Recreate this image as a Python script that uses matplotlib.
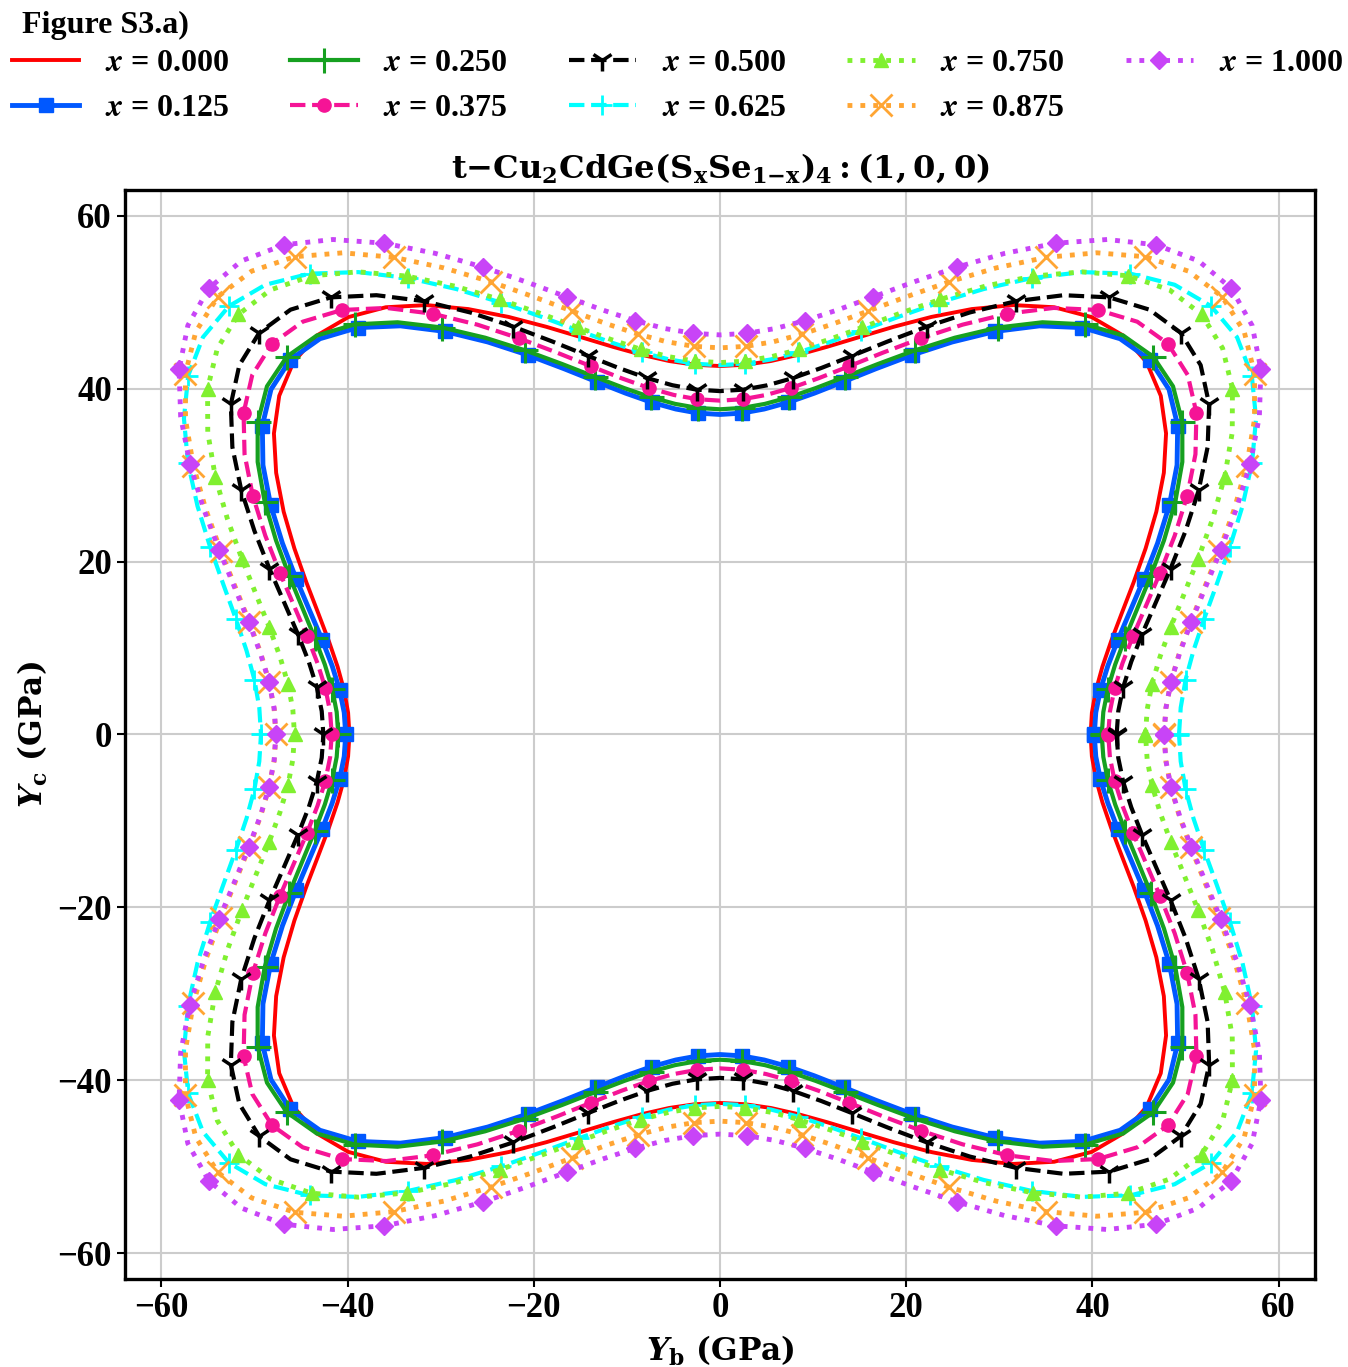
import numpy as np
import matplotlib
matplotlib.use('Agg')
import matplotlib.pyplot as plt
from matplotlib.font_manager import FontProperties

# Polar angle (degrees, measured from the Y_b axis) for one quadrant; the curves
# share the crystal's mirror symmetry about both axes.
angles_deg = [0.0, 3.6, 7.2, 10.8, 14.4, 18.0, 21.6, 25.2, 28.8, 32.4, 36.0, 39.6, 43.2,
              46.8, 50.4, 54.0, 57.6, 61.2, 64.8, 68.4, 72.0, 75.6, 79.2, 82.8, 86.4, 90.0]

# Young's modulus (GPa) at those angles, one list per composition
labels = ['0.000', '0.125', '0.250', '0.375', '0.500', '0.625', '0.750', '0.875', '1.000']

E_x0000 = [39.80, 40.02, 40.69, 41.81, 43.37, 45.37, 47.78, 50.52, 53.48, 56.46, 59.22, 61.44, 62.86,
           63.27, 62.63, 61.06, 58.80, 56.13, 53.36, 50.70, 48.30, 46.28, 44.68, 43.52, 42.83, 42.60]
E_x0125 = [40.20, 40.44, 41.18, 42.41, 44.13, 46.34, 48.97, 51.94, 55.08, 58.14, 60.76, 62.59, 63.31,
           62.77, 61.05, 58.40, 55.20, 51.79, 48.49, 45.48, 42.88, 40.74, 39.09, 37.93, 37.23, 37.00]
E_x0250 = [41.00, 41.25, 41.98, 43.21, 44.94, 47.13, 49.75, 52.70, 55.80, 58.81, 61.38, 63.15, 63.82,
           63.27, 61.54, 58.91, 55.73, 52.35, 49.07, 46.07, 43.48, 41.35, 39.70, 38.53, 37.83, 37.60]
E_x0375 = [41.70, 41.96, 42.72, 44.01, 45.80, 48.10, 50.85, 53.97, 57.26, 60.48, 63.25, 65.20, 66.00,
           65.47, 63.70, 60.96, 57.62, 54.07, 50.61, 47.47, 44.75, 42.52, 40.79, 39.57, 38.84, 38.60]
E_x0500 = [42.60, 42.86, 43.65, 44.97, 46.82, 49.19, 52.04, 55.26, 58.68, 62.03, 64.94, 67.00, 67.87,
           67.38, 65.59, 62.78, 59.34, 55.68, 52.11, 48.86, 46.05, 43.75, 41.96, 40.70, 39.95, 39.70]
E_x0625 = [49.30, 49.58, 50.40, 51.77, 53.68, 56.08, 58.90, 62.02, 65.21, 68.19, 70.60, 72.07, 72.35,
           71.33, 69.15, 66.08, 62.50, 58.77, 55.18, 51.91, 49.09, 46.78, 44.98, 43.71, 42.95, 42.70]
E_x0750 = [45.70, 45.97, 46.77, 48.12, 49.99, 52.39, 55.24, 58.46, 61.86, 65.16, 68.03, 70.06, 70.95,
           70.52, 68.82, 66.12, 62.77, 59.16, 55.61, 52.35, 49.50, 47.16, 45.33, 44.03, 43.26, 43.00]
E_x0875 = [47.70, 47.98, 48.82, 50.22, 52.18, 54.68, 57.66, 61.02, 64.55, 67.99, 70.97, 73.07, 73.97,
           73.49, 71.69, 68.84, 65.33, 61.56, 57.85, 54.44, 51.48, 49.03, 47.13, 45.77, 44.97, 44.70]
E_x1000 = [47.70, 47.98, 48.83, 50.26, 52.25, 54.79, 57.84, 61.30, 64.98, 68.61, 71.81, 74.18, 75.34,
           75.10, 73.48, 70.74, 67.27, 63.48, 59.71, 56.23, 53.19, 50.67, 48.71, 47.31, 46.48, 46.20]

series = [E_x0000, E_x0125, E_x0250, E_x0375, E_x0500, E_x0625, E_x0750, E_x0875, E_x1000]

styles = [
    dict(color='#ff0000', ls='-', lw=2.8),
    dict(color='#0058ff', ls='-', lw=3.5, marker='s', ms=10),
    dict(color='#16a020', ls='-', lw=3, marker='+', ms=18, mew=2.2),
    dict(color='#f51496', ls='--', lw=3, marker='o', ms=9.5),
    dict(color='black', ls='--', lw=3, marker='1', ms=16, mew=2.5),
    dict(color='#00ffff', ls='--', lw=3, marker='+', ms=15, mew=2),
    dict(color='#80f030', ls=':', lw=3.5, marker='^', ms=10.5),
    dict(color='#ffa533', ls=':', lw=3.5, marker='x', ms=16, mew=2),
    dict(color='#c844f7', ls=':', lw=3.5, marker='D', ms=9),
]

plt.rcParams['font.family'] = ['Liberation Serif', 'DejaVu Sans']
plt.rcParams['font.weight'] = 'bold'

W, H = 1348, 1367
fig = plt.figure(figsize=(W / 100, H / 100), dpi=100)
ax = fig.add_axes([125 / W, 88 / H, 1190 / W, 1089 / H])

# Full closed curve by mirroring the quadrant about both axes
a_q = np.array(angles_deg)
ang_half = np.concatenate([a_q, 180 - a_q[-2::-1]])
ang_full = np.radians(np.concatenate([ang_half, 360 - ang_half[49:0:-1], [360.0]]))
for lab, E, st in zip(labels, series, styles):
    q = np.array(E)
    half = np.concatenate([q, q[-2::-1]])
    full = np.concatenate([half, half[49:0:-1], half[:1]])
    ax.plot(full * np.cos(ang_full), full * np.sin(ang_full), markevery=2,
            label=r'$\mathbfit{x}$ = ' + lab, **st)

ax.grid(True, color='#cccccc', lw=1.5)
ax.set_axisbelow(True)
ax.set_xticks([-60, -40, -20, 0, 20, 40, 60])
ax.set_yticks([-60, -40, -20, 0, 20, 40, 60])
ax.tick_params(labelsize=25, length=6, width=1.5)
for s in ax.spines.values():
    s.set_linewidth(2.4)

tfp = FontProperties(family='DejaVu Serif', weight='bold', size=23.1, math_fontfamily='dejavuserif')
mfp = FontProperties(family='DejaVu Serif', weight='bold', size=22.5, math_fontfamily='dejavuserif')
ax.set_title(r'$\mathbf{t{-}Cu_2CdGe(S_xSe_{1{-}x})_4:(1,0,0)}$', fontproperties=tfp, pad=9)
ax.set_xlabel(r'$\mathbfit{Y}_\mathbf{b}\ \mathbf{(GPa)}$', fontproperties=mfp, labelpad=6)
ax.set_ylabel(r'$\mathbfit{Y}_\mathbf{c}\ \mathbf{(GPa)}$', fontproperties=mfp, labelpad=5)

fig.text(22 / W, 1 - 25 / H, 'Figure S3.a)', fontsize=23, fontweight='bold', va='center')
lfp = FontProperties(family='Liberation Serif', weight='bold', size=23, math_fontfamily='stix')
fig.legend(loc='upper left', bbox_to_anchor=(12 / W, 1 - 49 / H), ncol=5, frameon=False,
           prop=lfp, borderaxespad=0, borderpad=0, handlelength=2.1, columnspacing=1.92,
           labelspacing=0.47)

fig.savefig('out.png', dpi=100)
